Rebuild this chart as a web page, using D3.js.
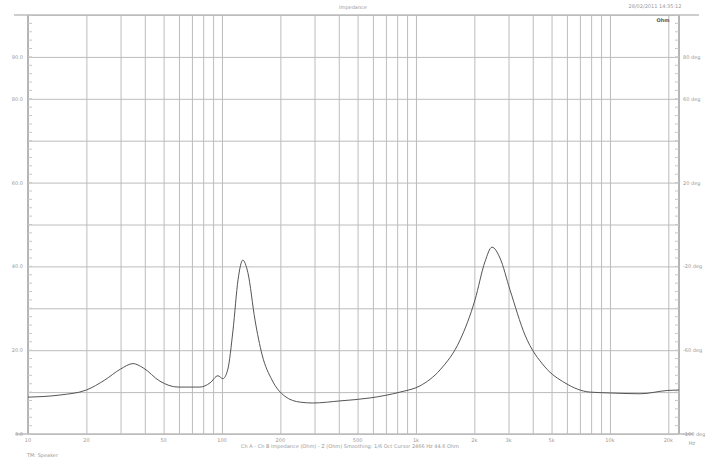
<!DOCTYPE html>
<html>
<head>
<meta charset="utf-8">
<script src="https://cdn.jsdelivr.net/npm/d3@7"></script>
<style>
    body { margin: 0; background: #fff; }
    svg { display: block; }
    .grid line { stroke: #bcbcbc; stroke-width: 1; }
    .grid path { display: none; }
    .lbl { font-family: "DejaVu Sans", sans-serif; font-size: 5px; fill: #999; }
</style>
</head>
<body>
<svg id="chart"></svg>
<script>
// impedance curve
var freqs = [10, 14.6, 20, 24.9, 30, 34.8, 39.2, 47.9, 59.3, 77, 86.8, 95.3, 101, 107, 114, 121, 128,
    136, 148, 161, 181, 211, 253, 294, 406, 579, 827, 1050, 1331, 1687, 2015, 2268, 2466, 2711,
    3053, 3650, 4625, 5863, 7887, 10000, 14290, 19900, 22700];
var ohms = [8.8, 9.3, 10.5, 12.9, 15.5, 16.8, 15.8, 12.6, 11.2, 11.2, 12.2, 13.9, 13.2, 15.3, 24.8, 36.8, 41.5,
    38.5, 27.2, 18.9, 12.9, 9.0, 7.6, 7.4, 7.9, 8.6, 10.0, 11.5, 15.3, 22.4, 32.0, 41.1, 44.6, 42.0,
    34.4, 23.6, 16.0, 12.2, 10.0, 9.8, 9.6, 10.4, 10.5];

// axis ticks
var xGridValues = [];
[10, 100, 1000, 10000].forEach(function(d) {
    for (var k = 1; k <= 9; k++) if (d * k <= 22700) xGridValues.push(d * k);
});
var xLabelValues = [10, 20, 50, 100, 200, 500, 1000, 2000, 3000, 5000, 10000, 20000];
var xLabelText = ["10", "20", "50", "100", "200", "500", "1k", "2k", "3k", "5k", "10k", "20k"];
var yLabelValues = [0, 20, 40, 60, 80, 90];
var rLabelValues = [-100, -60, -20, 20, 60, 80];

var width = 651;
var height = 419;
var margin = { "left": 28, "right": 26, "top": 15, "bottom": 33 };

var svg = d3.select("#chart")
    .attr("width", 705)
    .attr("height", 467);

var g = svg.append("g")
    .attr("transform", "translate(" + margin.left + "," + margin.top + ")");

var x = d3.scaleLog().domain([10, 22700]).range([0, width]);
var y = d3.scaleLinear().domain([0, 100]).range([height, 0]);
var yr = d3.scaleLinear().domain([-100, 100]).range([height, 0]);

// vertical gridlines
g.append("g")
    .attr("class", "grid")
    .attr("transform", "translate(0," + height + ")")
    .call(d3.axisBottom(x).tickValues(xGridValues).tickSize(-height).tickFormat(""));

// horizontal gridlines
g.append("g")
    .attr("class", "grid")
    .call(d3.axisLeft(y).ticks(10).tickSize(-width).tickFormat(""));

// frame lines, a bit longer than the plot like the original
g.append("line").attr("x1", -14).attr("x2", width + 20).attr("y1", 0).attr("y2", 0)
    .style("stroke", "#bdbdbd").style("stroke-width", 1.5);
g.append("line").attr("x1", -12).attr("x2", width + 14).attr("y1", height).attr("y2", height)
    .style("stroke", "#bdbdbd").style("stroke-width", 1.5);
g.append("line").attr("x1", 0).attr("x2", 0).attr("y1", 0).attr("y2", height)
    .style("stroke", "#b5b5b5").style("stroke-width", 2);
g.append("line").attr("x1", width).attr("x2", width).attr("y1", 0).attr("y2", height)
    .style("stroke", "#b5b5b5").style("stroke-width", 2);

// minor ticks on both y axes
var minor = d3.range(0, 100.01, 2);
g.selectAll(".mtl").data(minor).enter().append("line")
    .attr("x1", 0).attr("x2", 4)
    .attr("y1", d => y(d)).attr("y2", d => y(d))
    .style("stroke", "#c8c8c8");
g.selectAll(".mtr").data(minor).enter().append("line")
    .attr("x1", width - 4).attr("x2", width)
    .attr("y1", d => y(d)).attr("y2", d => y(d))
    .style("stroke", "#c8c8c8");

// labels
g.selectAll(".xl").data(xLabelValues).enter().append("text")
    .attr("class", "lbl")
    .attr("x", d => x(d)).attr("y", height + 8)
    .attr("text-anchor", "middle")
    .text((d, i) => xLabelText[i]);

g.selectAll(".yl").data(yLabelValues).enter().append("text")
    .attr("class", "lbl")
    .attr("x", -5).attr("y", d => y(d) + 2)
    .attr("text-anchor", "end")
    .text(d => d.toFixed(1));

g.selectAll(".rl").data(rLabelValues).enter().append("text")
    .attr("class", "lbl")
    .attr("x", width + 4).attr("y", d => yr(d) + 2)
    .attr("text-anchor", "start")
    .text(d => d.toFixed(0) + " deg");

// impedance line
var line = d3.line()
    .curve(d3.curveMonotoneX)
    .x((d, i) => x(freqs[i]))
    .y(d => y(d));

g.append("path")
    .datum(ohms)
    .attr("d", line)
    .style("fill", "none")
    .style("stroke", "#555")
    .style("stroke-width", 1);

// texts around the plot
svg.append("text").attr("class", "lbl")
    .attr("x", 353).attr("y", 9).attr("text-anchor", "middle")
    .text("Impedance");
svg.append("text").attr("class", "lbl")
    .attr("x", 655).attr("y", 8).attr("text-anchor", "middle")
    .text("28/02/2011 14:35:12");
svg.append("text").attr("class", "lbl")
    .attr("x", 663).attr("y", 22).attr("text-anchor", "middle")
    .style("fill", "#555").style("font-weight", "bold")
    .text("Ohm");
svg.append("text").attr("class", "lbl")
    .attr("x", 692).attr("y", 445).attr("text-anchor", "middle")
    .text("Hz");
svg.append("text").attr("class", "lbl")
    .attr("x", 350).attr("y", 448).attr("text-anchor", "middle")
    .text("Ch A - Ch B    Impedance (Ohm) - Z (Ohm) Smoothing: 1/6 Oct    Cursor 2466 Hz    44.6 Ohm");
svg.append("text").attr("class", "lbl")
    .attr("x", 27).attr("y", 457)
    .text("TM: Speaker");
</script>
</body>
</html>
